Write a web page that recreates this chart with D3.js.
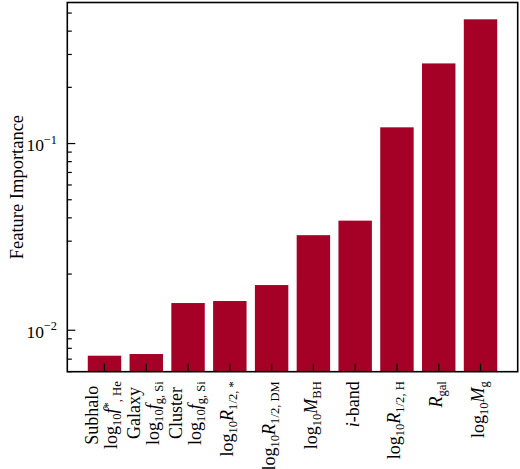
<!DOCTYPE html>
<html>
<head>
<meta charset="utf-8">
<script src="https://cdn.jsdelivr.net/npm/d3@7"></script>
<style>
  body { margin: 0; background: #fff; }
  text { font-family: "Liberation Serif", "Times New Roman", serif; fill: #000; }
</style>
</head>
<body>
<div id="chart"></div>
<script>
// feature names, in plotted order
const categories = [
  'Subhalo log10 f*,He', 'Galaxy log10 fg,Si', 'Cluster log10 fg,Si',
  'log10 R1/2,*', 'log10 R1/2,DM', 'log10 MBH', 'i-band',
  'log10 R1/2,H', 'Rgal', 'log10 Mg'
]
// feature importance
const importance = [0.00726, 0.00741, 0.0139, 0.01425, 0.01735, 0.0321, 0.0384, 0.1214, 0.267, 0.46]

// tick label pieces: [text, style]  n = upright, i = italic, s = subscript, p = raised small
const logTen = [['log', 'n'], ['10', 's']]
const tickLabels = [
  [[['Subhalo', 'n']], [...logTen, ['f', 'i'], ['*', 'p'], [', He', 's']]],
  [[['Galaxy', 'n']], [...logTen, ['f', 'i'], ['g, Si', 's']]],
  [[['Cluster', 'n']], [...logTen, ['f', 'i'], ['g, Si', 's']]],
  [[...logTen, ['R', 'i'], ['1/2, *', 's']]],
  [[...logTen, ['R', 'i'], ['1/2, DM', 's']]],
  [[...logTen, ['M', 'i'], ['BH', 's']]],
  [[['i', 'i'], ['-band', 'n']]],
  [[...logTen, ['R', 'i'], ['1/2, H', 's']]],
  [[['R', 'i'], ['gal', 's']]],
  [[...logTen, ['M', 'i'], ['g', 's']]]
]

const yMajor = [0.01, 0.1]
const yMajorExp = ['\u22122', '\u22121']
const yMinor = [0.006, 0.007, 0.008, 0.009, 0.02, 0.03, 0.04, 0.05, 0.06, 0.07, 0.08, 0.09, 0.2, 0.3, 0.4, 0.5]
const yDomain = [0.00596, 0.566]

const W = 520, H = 469
const margin = {top: 2.5, right: 2.3, bottom: 97.3, left: 67.3}
const barColor = '#a50026'
const fs = 17.5
const xfs = 18

const svg = d3.select('#chart').append('svg')
  .attr('width', W).attr('height', H)

const x = d3.scaleBand()
  .domain(categories)
  .range([margin.left, W - margin.right])
  .paddingInner(0.2)
  .paddingOuter(0.49)

const y = d3.scaleLog()
  .domain(yDomain)
  .range([H - margin.bottom, margin.top])

// writes mathtext-like pieces as tspans
function addRich(sel, segs, size) {
  let shift = 0
  segs.forEach(([t, st]) => {
    const small = st === 's' || st === 'p'
    const target = st === 's' ? size * 0.22 : st === 'p' ? -size * 0.28 : 0
    sel.append('tspan')
      .attr('dy', target - shift)
      .style('font-size', (small ? size * 0.7 : size) + 'px')
      .style('font-style', st === 'i' ? 'italic' : null)
      .text(t)
    shift = target
  })
}

// bars
svg.append('g').selectAll('rect').data(categories).enter().append('rect')
  .attr('x', d => x(d))
  .attr('width', x.bandwidth())
  .attr('y', (d, i) => y(importance[i]))
  .attr('height', (d, i) => y(yDomain[0]) - y(importance[i]))
  .attr('fill', barColor)

// frame
svg.append('rect')
  .attr('x', margin.left).attr('y', margin.top)
  .attr('width', W - margin.left - margin.right)
  .attr('height', H - margin.top - margin.bottom)
  .attr('fill', 'none').attr('stroke', '#000').attr('stroke-width', 1.6)

// y ticks, pointing inward
const gyMinor = svg.append('g')
  .attr('transform', `translate(${margin.left},0)`)
  .call(d3.axisLeft(y).tickValues(yMinor).tickSize(-4.5).tickSizeOuter(0).tickFormat(''))
gyMinor.select('.domain').remove()

const gy = svg.append('g')
  .attr('transform', `translate(${margin.left},0)`)
  .call(d3.axisLeft(y).tickValues(yMajor).tickSize(-8).tickSizeOuter(0).tickFormat(''))
gy.select('.domain').remove()
gy.selectAll('.tick text')
  .attr('x', -10.3).attr('dy', null).attr('y', 7.7)
  .attr('text-anchor', 'end')
  .style('font-size', fs + 'px')
  .each(function (d, i) {
    const t = d3.select(this)
    t.append('tspan').text('10')
    t.append('tspan').attr('dy', -7.7).style('font-size', '12.3px').text(yMajorExp[i])
  })

// x ticks, pointing inward
const gx = svg.append('g')
  .attr('transform', `translate(0,${H - margin.bottom})`)
  .call(d3.axisBottom(x).tickSize(-8).tickSizeOuter(0).tickFormat(''))
gx.select('.domain').remove()
gx.selectAll('.tick text').remove()

svg.selectAll('.tick line').attr('stroke', '#000').attr('stroke-width', 1.2)

// rotated x labels
const labelTop = H - margin.bottom + 9.5
categories.forEach((c, i) => {
  const lines = tickLabels[i]
  const offs = lines.length === 1 ? [3.5] : [-6, 13]
  const g = svg.append('g')
    .attr('transform', `translate(${x(c) + x.bandwidth() / 2},${labelTop}) rotate(-90)`)
  const texts = lines.map((segs, k) => {
    const t = g.append('text')
      .attr('y', offs[k])
      .attr('text-anchor', 'middle')
      .style('font-size', xfs + 'px')
    addRich(t, segs, xfs)
    return t
  })
  const maxLen = d3.max(texts, t => t.node().getComputedTextLength())
  texts.forEach(t => t.attr('x', -maxLen / 2))
})

// y label
svg.append('text')
  .attr('transform', `translate(23,${(margin.top + H - margin.bottom) / 2}) rotate(-90)`)
  .attr('text-anchor', 'middle')
  .style('font-size', '18.5px')
  .text('Feature Importance')
</script>
</body>
</html>
